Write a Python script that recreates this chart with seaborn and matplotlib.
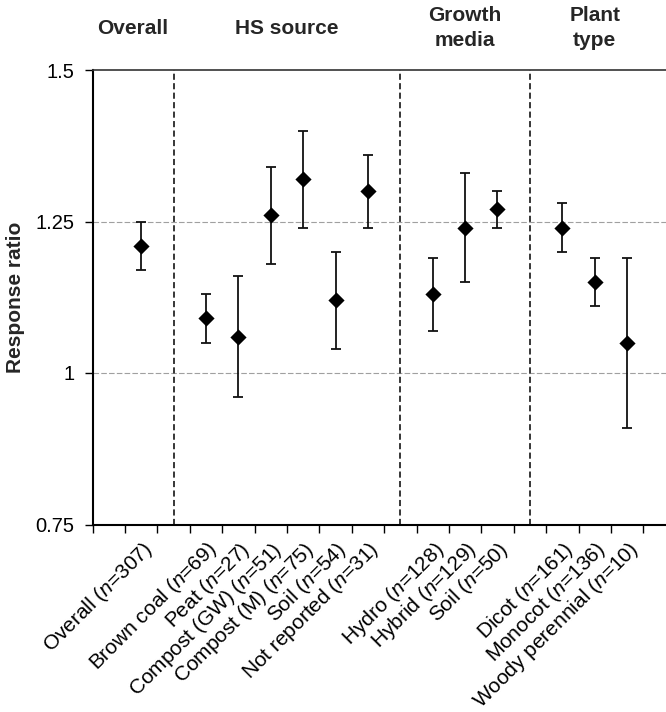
import matplotlib
matplotlib.use("Agg")
import matplotlib.pyplot as plt
import matplotlib.transforms as mtransforms
import seaborn as sns
import pandas as pd
import numpy as np

# groups shown along the x axis (empty slot between groups holds the dashed divider)
group_names = ["Overall", "HS source", "Growth\nmedia", "Plant\ntype"]
group_labels = [
    ["Overall (n=307)"],
    ["Brown coal (n=69)", "Peat (n=27)", "Compost (GW) (n=51)", "Compost (M) (n=75)",
     "Soil (n=54)", "Not reported (n=31)"],
    ["Hydro (n=128)", "Hybrid (n=129)", "Soil (n=50)"],
    ["Dicot (n=161)", "Monocot (n=136)", "Woody perennial (n=10)"],
]

response = [1.21, 1.09, 1.06, 1.26, 1.32, 1.12, 1.30, 1.13, 1.24, 1.27, 1.24, 1.15, 1.05]
ci_low = [1.17, 1.05, 0.96, 1.18, 1.24, 1.04, 1.24, 1.07, 1.15, 1.24, 1.20, 1.11, 0.91]
ci_high = [1.25, 1.13, 1.16, 1.34, 1.40, 1.20, 1.36, 1.19, 1.33, 1.30, 1.28, 1.19, 1.19]

y_ticks = [0.75, 1.0, 1.25, 1.5]
y_ticklabels = ["0.75", "1", "1.25", "1.5"]
ref_lines = [1.0, 1.25]

sns.set_theme(style="white")
plt.rcParams["font.family"] = ["Liberation Sans", "DejaVu Sans"]
plt.rcParams["mathtext.fontset"] = "custom"
plt.rcParams["mathtext.rm"] = "Liberation Sans"
plt.rcParams["mathtext.it"] = "Liberation Sans:italic"

# lay the categories out in slots: one blank slot first, one blank between groups
n_slots = 1
pos = []
group_slots = []
divider_slots = []
for gi, labels in enumerate(group_labels):
    if gi > 0:
        divider_slots.append(n_slots)
        n_slots += 1
    start = n_slots
    for lab in labels:
        pos.append(n_slots)
        n_slots += 1
    group_slots.append((start, n_slots - 1))

cat_labels = [lab for labels in group_labels for lab in labels]
df = pd.DataFrame({"label": cat_labels, "pos": pos, "rr": response,
                   "lo": ci_low, "hi": ci_high})

fig = plt.figure(figsize=(6.66, 7.12), dpi=100)
ax = fig.add_axes([92.5 / 666, 1 - 524.5 / 712, 1 - 92.5 / 666, (524.5 - 70) / 712])

for y in ref_lines:
    ax.axhline(y, color="#a0a0a0", lw=0.8, ls=(0, (5, 2)), zorder=1)
for d in divider_slots:
    ax.axvline(d, color="black", lw=1.1, ls=(0, (4, 2.2)), zorder=1)

ax.errorbar(df["pos"], df["rr"], yerr=[df["rr"] - df["lo"], df["hi"] - df["rr"]],
            fmt="none", ecolor="#111111", elinewidth=1.3, capsize=3.6, capthick=1.3, zorder=2)
sns.scatterplot(data=df, x="pos", y="rr", marker="D", s=68, color="black",
                edgecolor="black", linewidth=0, ax=ax, zorder=3, legend=False)

ax.set_xlim(-0.5, -0.5 + (666 - 92.5) / 32.4)
ax.set_ylim(0.75, 1.5)
ax.set_yticks(y_ticks)
ax.set_yticklabels(y_ticklabels)

tick_text = [lab.replace("(n=", r"($\mathit{n}$=") for lab in cat_labels]
ax.set_xticks(df["pos"])
ax.set_xticklabels(tick_text, rotation=45, ha="right", va="top", rotation_mode="anchor")
ax.set_xticks(np.arange(n_slots + 1) - 0.5, minor=True)

ax.tick_params(axis="x", which="major", length=0, pad=10, labelsize=15, colors="black")
ax.tick_params(axis="x", which="minor", length=6, width=1, direction="out",
               color="black", bottom=True)
ax.tick_params(axis="y", which="major", length=5.5, width=1, direction="out",
               pad=7.5, labelsize=14.5, colors="black", left=True)

ax.set_xlabel("")
ax.set_ylabel("Response ratio", fontsize=15, fontweight="bold", va="center")
ax.yaxis.set_label_coords((16 - 92.5) / (666 - 92.5), 0.5)

for side in ["left", "bottom"]:
    ax.spines[side].set_color("black")
    ax.spines[side].set_linewidth(1.5)
ax.spines["top"].set_color("#333333")
ax.spines["top"].set_linewidth(1.2)
ax.spines["right"].set_visible(False)

# group headers above the plot
trans = mtransforms.blended_transform_factory(ax.transData, fig.transFigure)
for gi, name in enumerate(group_names):
    start, end = group_slots[gi]
    if gi == 0:
        xc = (ax.get_xlim()[0] + divider_slots[0]) / 2
    else:
        xc = (start + end) / 2
    ax.text(xc, 1 - 28 / 712, name, transform=trans, ha="center", va="center",
            fontsize=15, fontweight="bold", linespacing=1.35)

fig.savefig("out.png", dpi=100)
